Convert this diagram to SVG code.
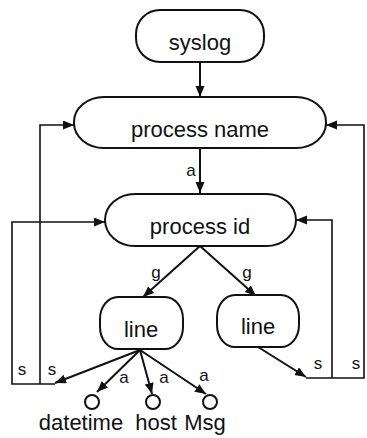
<svg xmlns="http://www.w3.org/2000/svg" width="367" height="438" viewBox="0 0 367 438">
  <style>
    .node { fill: #fff; stroke: #111; stroke-width: 2; }
    .leaf { fill: #fff; stroke: #111; stroke-width: 2; }
    .lbl { font-family: "Liberation Sans", Arial, sans-serif; font-size: 22px; fill: #111; text-anchor: middle; }
    .edge { fill: none; stroke: #111; stroke-width: 2; }
    .loop { fill: none; stroke: #111; stroke-width: 1.6; }
    .elbl { font-family: "Liberation Sans", Arial, sans-serif; font-size: 17px; fill: #111; text-anchor: middle; }
  </style>
  <defs>
    <marker id="arrow" markerUnits="userSpaceOnUse" markerWidth="12" markerHeight="10" refX="11" refY="4.5" orient="auto">
      <path d="M0,0 L11,4.5 L0,9 z" fill="#111"/>
    </marker>
  </defs>
  <rect width="367" height="438" fill="#fff"/>

  <g id="connectors">
    <path class="edge" d="M200,62 L200,97" marker-end="url(#arrow)"/>
    <path class="edge" d="M200,148 L200,193" marker-end="url(#arrow)"/>
    <text class="elbl" x="191" y="176">a</text>
    <path class="edge" d="M200,246 L143,297" marker-end="url(#arrow)"/>
    <text class="elbl" x="156" y="278">g</text>
    <path class="edge" d="M200,246 L256,296" marker-end="url(#arrow)"/>
    <text class="elbl" x="247" y="278">g</text>
    <!-- sibling links from the left line -->
    <path class="edge" d="M140,350 L55,383" marker-end="url(#arrow)"/>
    <path class="loop" d="M55,384 L12,384 L12,222 L105,222" marker-end="url(#arrow)"/>
    <path class="loop" d="M40,384 L40,125 L74,125" marker-end="url(#arrow)"/>
    <text class="elbl" x="22" y="375">s</text>
    <text class="elbl" x="52" y="375">s</text>
    <!-- attributes -->
    <path class="edge" d="M140,350 L97,392" marker-end="url(#arrow)"/>
    <path class="edge" d="M140,350 L152,394" marker-end="url(#arrow)"/>
    <path class="edge" d="M140,350 L206,394" marker-end="url(#arrow)"/>
    <text class="elbl" x="124" y="383">a</text>
    <text class="elbl" x="164" y="383">a</text>
    <text class="elbl" x="204" y="381">a</text>
    <!-- sibling links from the right line -->
    <path class="edge" d="M258,347 L306,377" marker-end="url(#arrow)"/>
    <path class="loop" d="M306,378 L364,378 L364,125 L326,125" marker-end="url(#arrow)"/>
    <path class="loop" d="M332,378 L332,220 L296,220" marker-end="url(#arrow)"/>
    <text class="elbl" x="318" y="369">s</text>
    <text class="elbl" x="356" y="369">s</text>
  </g>

  <g id="syslog">
    <rect class="node" x="136" y="10" width="128" height="52" rx="24" ry="24"/>
    <text class="lbl" x="200" y="50">syslog</text>
  </g>
  <g id="process-name">
    <rect class="node" x="74" y="97" width="252" height="51" rx="30" ry="25"/>
    <text class="lbl" x="200" y="137">process name</text>
  </g>
  <g id="process-id">
    <rect class="node" x="105" y="194" width="191" height="52" rx="30" ry="26"/>
    <text class="lbl" x="200" y="234">process id</text>
  </g>
  <g id="line-left">
    <rect class="node" x="100" y="297" width="83" height="52" rx="18" ry="22"/>
    <text class="lbl" x="141" y="337">line</text>
  </g>
  <g id="line-right">
    <rect class="node" x="217" y="295" width="82" height="52" rx="18" ry="22"/>
    <text class="lbl" x="258" y="334">line</text>
  </g>
  <g id="datetime">
    <circle class="leaf" cx="92" cy="402" r="7"/>
    <text class="lbl" x="81" y="430">datetime</text>
  </g>
  <g id="host">
    <circle class="leaf" cx="153" cy="402" r="7"/>
    <text class="lbl" x="156" y="430">host</text>
  </g>
  <g id="msg">
    <circle class="leaf" cx="210" cy="402" r="7"/>
    <text class="lbl" x="205" y="430">Msg</text>
  </g>
</svg>
